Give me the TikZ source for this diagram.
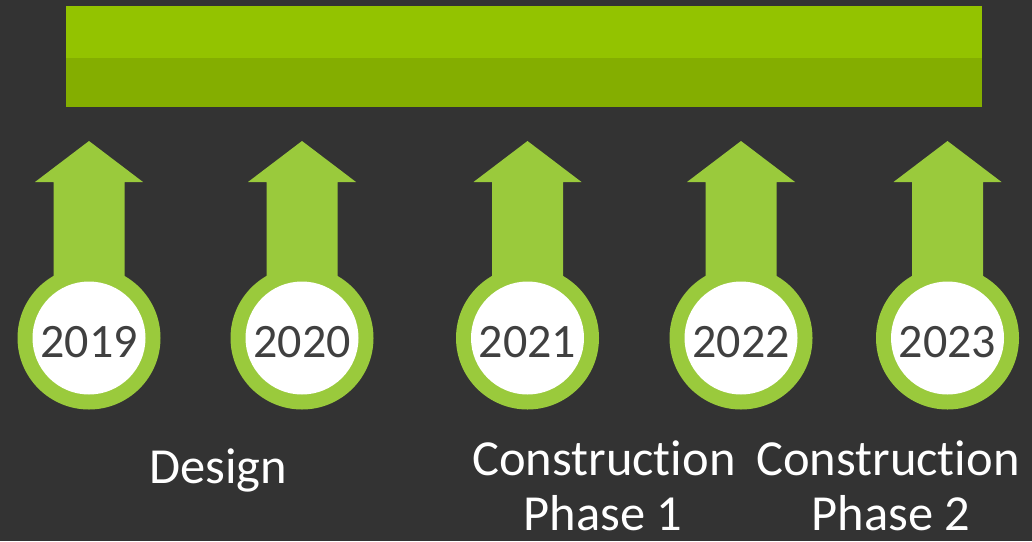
\documentclass[tikz,border=0pt]{standalone}
\usepackage{fontspec}
\setmainfont[Ligatures=NoCommon]{Carlito}
\definecolor{bgdark}{HTML}{333333}
\definecolor{bartop}{HTML}{93C300}
\definecolor{barbot}{HTML}{84AE00}
\definecolor{arrowgreen}{HTML}{9ACA3C}
\definecolor{yeartext}{HTML}{404040}
\tikzset{
  ring/.style={circle, fill=arrowgreen, minimum size=143pt, inner sep=0pt},
  disc/.style={circle, fill=white, minimum size=113pt, inner sep=0pt},
  yearlabel/.style={anchor=base, text=yeartext, inner sep=0pt, font=\fontsize{48}{52}\selectfont},
  phaselabel/.style={anchor=base, text=white, inner sep=0pt, font=\fontsize{50.5}{55}\selectfont},
}
\begin{document}
\begin{tikzpicture}[x=1pt,y=-1pt]
\fill[bgdark] (0,0) rectangle (1032,541);
\useasboundingbox (0,0) rectangle (1032,541);
% top bar
\fill[bartop] (66,6) rectangle (982,58);
\fill[barbot] (66,58) rectangle (982,106.5);
% arrows with year discs
\foreach \cx/\yr in {89/2019, 302/2020, 527.5/2021, 741/2022, 947.5/2023}{
  \coordinate (tip\yr) at (\cx,141);
  \fill[arrowgreen] (tip\yr) -- ++(54,41) -- ++(-18.5,0) -- ++(0,110) -- ++(-71,0) -- ++(0,-110) -- ++(-18.5,0) -- cycle;
  \node[ring] (ring\yr) at (\cx,338) {};
  \node[disc] (disc\yr) at (ring\yr.center) {};
  \node[yearlabel] (txt\yr) at (\cx,357) {\yr};
}
% phase labels
\node[phaselabel] (design) at (218,483) {Design};
\node[phaselabel] (cons1) at (604,475) {Construction};
\node[phaselabel] (ph1) at (603,530) {Phase 1};
\node[phaselabel] (cons2) at (888,475) {Construction};
\node[phaselabel] (ph2) at (891,530) {Phase 2};
\end{tikzpicture}
\end{document}
